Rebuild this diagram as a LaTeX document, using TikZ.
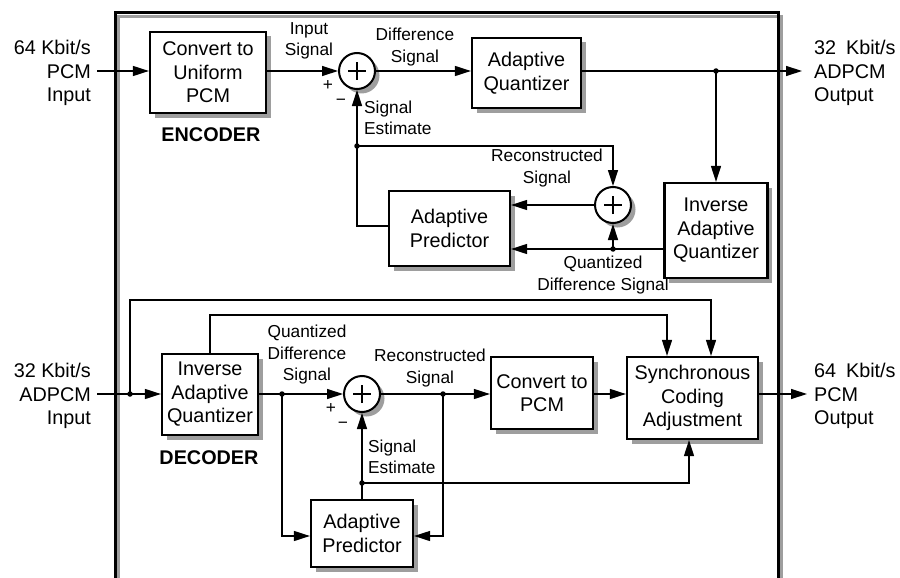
\documentclass[tikz,border=0pt]{standalone}
\usepackage{fontspec}
\setmainfont{Liberation Sans}
\usetikzlibrary{arrows.meta,shadows}
\begin{document}
\begin{tikzpicture}[x=1pt,y=-1pt,
 shad/.style={drop shadow={shadow xshift=4.5pt, shadow yshift=-4.5pt, fill=black!38, opacity=1}},
 blk/.style={draw, line width=2.2pt, fill=white, align=center, inner sep=0pt, font=\fontsize{19.8}{23.5}\selectfont, shad},
 sumc/.style={circle, draw, line width=2pt, fill=white, minimum size=36pt, inner sep=0pt, shad},
 lbl/.style={align=center, inner sep=0pt, font=\fontsize{17.3}{21.5}\selectfont},
 io/.style={inner sep=0pt, font=\fontsize{19.8}{23.5}\selectfont},
 wire/.style={line width=1.3pt},
 arr/.style={wire, -{Triangle[length=16pt,width=10pt]}},
 dot/.style={circle, fill=black, inner sep=0pt, minimum size=5.5pt},
 ttl/.style={font=\fontsize{19.8}{23.5}\selectfont\bfseries, inner sep=0pt},
 plusl/.style={line width=1.8pt}
]
\useasboundingbox (0,0) rectangle (900,578);
% frame
\draw[line width=3pt, black!38] (118.5,578) -- (118.5,16.5) -- (781.5,16.5) -- (781.5,578);
\draw[line width=3pt] (115,578) -- (115,13) -- (778,13) -- (778,578);

% ---------------- encoder ----------------
\node[blk, minimum width=116pt, minimum height=81pt] (cu) at (208,72.5) {Convert to\\Uniform\\PCM};
\node[sumc] (s1) at (357,71) {};
\node[blk, minimum width=109pt, minimum height=70pt] (aq) at (526.5,73) {Adaptive\\Quantizer};
\node[blk, minimum width=103pt, minimum height=95pt] (iq) at (716,230.5) {Inverse\\Adaptive\\Quantizer};
\node[sumc] (s2) at (613,205) {};
\node[blk, minimum width=121pt, minimum height=75pt] (ap) at (449.5,228.5) {Adaptive\\Predictor};

\coordinate (in1) at (97,71);
\coordinate (out1) at (802,71);

\draw[arr] (in1) -- (cu.west |- in1);
\draw[arr] (cu.east |- s1) -- (s1.west);
\draw[arr] (s1.east) -- (aq.west |- s1);
\draw[arr] (aq.east |- s1) -- (out1);
\draw[arr] (716,71) -- (iq.north);
\draw[arr] (357,146) -| (s2.north);
\draw[arr] (s2.west) -- (ap.east |- s2);
\draw[arr] (iq.west |- 0,249) -- (ap.east |- 0,249);
\draw[arr] (613,249) -- (s2.south);
\draw[arr] (ap.west |- 0,226) -| (s1.south);

\node[dot] (j1) at (716,71) {};
\node[dot] (j2) at (357,146) {};
\node[dot] (j3) at (613,249) {};

\node[io, anchor=east, align=right] (tin1) at (91,73) {64 Kbit/s\\PCM\\Input};
\node[lbl] (lis) at (309,41) {Input\\Signal};
\node[lbl] (lp1) at (328,86) {+};
\node[lbl] (lm1) at (341,102) {−};
\node[lbl] (lds) at (415,47) {Difference\\Signal};
\node[lbl, anchor=west, align=left] (lse1) at (364,118) {Signal\\Estimate};
\node[lbl] (lrs1) at (547,168) {Reconstructed\\Signal};
\node[lbl] (lqd1) at (603,275) {Quantized\\Difference Signal};
\node[ttl] (enc) at (211,135) {ENCODER};
\node[io, anchor=west, align=left] (tout1) at (814,73) {32\enspace Kbit/s\\ADPCM\\Output};

% ---------------- decoder ----------------
\node[blk, minimum width=96pt, minimum height=81pt] (dq) at (210,394.5) {Inverse\\Adaptive\\Quantizer};
\node[sumc] (s3) at (362,394) {};
\node[blk, minimum width=102pt, minimum height=72pt] (cp) at (542,393) {Convert to\\PCM};
\node[blk, minimum width=131pt, minimum height=82pt] (sc) at (692.5,398) {Synchronous\\Coding\\Adjustment};
\node[blk, minimum width=102pt, minimum height=67pt] (dp) at (362,533.5) {Adaptive\\Predictor};

\coordinate (in2) at (97,394);
\coordinate (out2) at (807,394);

\draw[arr] (in2) -- (dq.west |- in2);
\draw[arr] (130,394) -- (130,300) -| (sc.north -| 711,0);
\draw[arr] (dq.north) -- (dq.north |- 0,315) -| (sc.north -| 667,0);
\draw[arr] (dq.east |- s3) -- (s3.west);
\draw[arr] (s3.east) -- (cp.west |- s3);
\draw[arr] (cp.east |- s3) -- (sc.west |- s3);
\draw[arr] (sc.east |- s3) -- (out2);
\draw[arr] (282,394) |- (dp.west |- 0,536);
\draw[arr] (443,394) |- (dp.east |- 0,536);
\draw[arr] (dp.north) -- (s3.south);
\draw[arr] (362,483) -| (sc.south -| 689,0);

\node[dot] (k1) at (130,394) {};
\node[dot] (k2) at (282,394) {};
\node[dot] (k3) at (443,394) {};
\node[dot] (k4) at (362,483) {};

\node[io, anchor=east, align=right] (tin2) at (91,396) {32 Kbit/s\\ADPCM\\Input};
\node[lbl] (lqd2) at (307,355) {Quantized\\Difference\\Signal};
\node[lbl] (lp3) at (331,409) {+};
\node[lbl] (lm3) at (343,425) {−};
\node[lbl] (lrs2) at (430,368) {Reconstructed\\Signal};
\node[lbl, anchor=west, align=left] (lse2) at (368,457) {Signal\\Estimate};
\node[ttl] (dec) at (209,458) {DECODER};
\node[io, anchor=west, align=left] (tout2) at (814,396) {64\enspace Kbit/s\\PCM\\Output};

% plus signs in summing junctions
\foreach \s in {s1,s2,s3}
  \draw[plusl] ([xshift=-9pt]\s.center) -- ([xshift=9pt]\s.center)
               ([yshift=-9pt]\s.center) -- ([yshift=9pt]\s.center);
\end{tikzpicture}
\end{document}
